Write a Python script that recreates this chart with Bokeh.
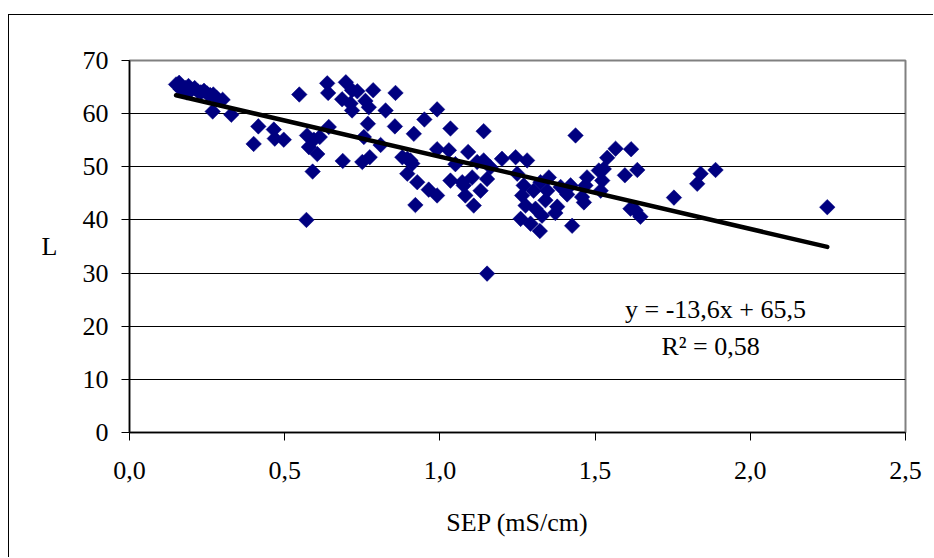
import numpy as np
from bokeh.plotting import figure
from bokeh.models import FixedTicker, CustomJSTickFormatter, Label, ColumnDataSource
from bokeh.embed import file_html
from bokeh.resources import INLINE

# ---- data ----
sep = [0.15, 0.16, 0.165, 0.17, 0.18, 0.185, 0.19, 0.20, 0.21, 0.22, 0.23, 0.24, 0.25, 0.26, 0.27, 0.28, 0.30,
       0.268, 0.328, 0.40, 0.415, 0.465, 0.468, 0.497,
       0.547, 0.572, 0.578, 0.59, 0.594, 0.605, 0.613, 0.57,
       0.637, 0.64, 0.642, 0.685, 0.687, 0.697, 0.712, 0.717, 0.717, 0.734,
       0.75, 0.755, 0.76, 0.768, 0.771, 0.774, 0.785, 0.809, 0.825, 0.855, 0.857,
       0.879, 0.895, 0.905, 0.895, 0.911, 0.916, 0.921, 0.927, 0.95, 0.964, 0.991, 0.991, 0.991,
       1.029, 1.034, 1.034, 1.05, 1.072, 1.077, 1.082, 1.091, 1.104, 1.109, 1.12, 1.131, 1.141, 1.141, 1.152, 1.163, 1.152,
       1.2, 1.244, 1.249, 1.26, 1.265, 1.27, 1.276, 1.281, 1.292, 1.302, 1.308, 1.322, 1.324, 1.329, 1.34, 1.346, 1.351,
       1.372, 1.378, 1.389, 1.41, 1.421, 1.426, 1.437, 1.458, 1.464, 1.469, 1.474,
       1.512, 1.518, 1.523, 1.528, 1.539, 1.566, 1.596, 1.614, 1.616, 1.63, 1.636, 1.646, 1.754, 1.829, 1.84, 1.888, 2.248]
L_vals = [65.5, 65.8, 64.6, 65.0, 64.8, 64.0, 65.2, 64.5, 64.8, 64.2, 64.0, 64.3, 63.8, 63.5, 63.6, 63.0, 62.6,
          60.4, 59.8, 54.3, 57.6, 57.0, 55.3, 55.1,
          63.6, 55.9, 53.7, 49.1, 55.1, 52.4, 55.6, 40.0,
          65.7, 63.9, 57.5, 62.7, 51.1, 65.9, 61.9, 60.6, 64.4, 64.2,
          50.9, 55.6, 62.4, 58.1, 61.2, 51.8, 64.4, 54.1, 60.6, 57.6, 63.9,
          51.8, 51.5, 51.2, 48.7, 50.6, 56.2, 42.8, 47.1, 58.9, 45.7, 60.8, 53.3, 44.6,
          53.1, 57.2, 47.4, 50.5, 47.1, 46.5, 44.6, 52.8, 48.0, 42.7, 50.9, 45.5, 56.7, 51.2, 47.7, 49.9, 29.9,
          51.5, 51.8, 48.7, 40.2, 44.6, 46.5, 42.7, 51.2, 39.3, 45.5, 42.1, 37.9, 47.1, 40.8, 43.7, 45.5, 48.0,
          41.3, 42.5, 46.2, 44.8, 46.5, 38.9, 55.9, 44.3, 43.3, 46.5, 48.0,
          49.3, 45.5, 47.4, 49.6, 51.7, 53.4, 48.4, 42.1, 53.3, 41.8, 49.4, 40.6, 44.2, 46.8, 48.7, 49.4, 42.4]

slope = -13.6
intercept = 65.5
eq_text = "y = -13,6x + 65,5"
r2_text = "R\u00b2 = 0,58"

x_ticks = [0.0, 0.5, 1.0, 1.5, 2.0, 2.5]
y_ticks = [0, 10, 20, 30, 40, 50, 60, 70]
grid_ticks = [10, 20, 30, 40, 50, 60]

FONT = "Liberation Serif"
FS = "26px"

p = figure(width=925, height=543, output_backend="svg", toolbar_location=None,
           x_range=(0, 2.5), y_range=(0, 70),
           min_border_left=120, min_border_right=29, min_border_top=45, min_border_bottom=126,
           styles={"margin-left": "8px", "margin-top": "14px",
                   "border-left": "1px solid black", "border-top": "1px solid black"})
p.background_fill_color = "white"
p.border_fill_color = "white"
p.outline_line_color = "#808080"
p.outline_line_width = 2

# grid
p.xgrid.visible = False
p.ygrid.ticker = FixedTicker(ticks=grid_ticks)
p.ygrid.grid_line_color = "black"
p.ygrid.grid_line_width = 1

# axes
for ax in (p.xaxis, p.yaxis):
    ax.axis_line_color = "black"
    ax.axis_line_width = 1.5
    ax.major_tick_line_color = "black"
    ax.major_tick_line_width = 1
    ax.major_tick_out = 8
    ax.major_tick_in = 0
    ax.minor_tick_line_color = None
    ax.major_label_text_font = FONT
    ax.major_label_text_font_size = FS
    ax.major_label_text_color = "black"
    ax.axis_label_text_font = FONT
    ax.axis_label_text_font_size = FS
    ax.axis_label_text_font_style = "normal"
    ax.axis_label_text_color = "black"

p.xaxis.ticker = FixedTicker(ticks=x_ticks)
p.xaxis.formatter = CustomJSTickFormatter(code="return tick.toFixed(1).replace('.', ',');")
p.xaxis.major_label_standoff = 21
p.xaxis.axis_label = "SEP (mS/cm)"
p.xaxis.axis_label_standoff = 26

p.yaxis.ticker = FixedTicker(ticks=y_ticks)
p.yaxis.major_label_standoff = 13
p.yaxis.axis_label = "L"
p.yaxis.axis_label_standoff = 22
p.yaxis.axis_label_orientation = "horizontal"

# points
src = ColumnDataSource(dict(x=sep, y=L_vals))
p.scatter("x", "y", source=src, marker="square", size=11, angle=np.pi / 4,
          fill_color="#000080", line_color="#000080", line_width=0.5)

# trend line
xs = np.array([min(sep), max(sep)])
ys = slope * xs + intercept
p.line(xs, ys, line_color="black", line_width=4.5, line_cap="round")

# equation labels
p.add_layout(Label(x=1.888, y=23.1, text=eq_text, text_align="center", text_baseline="alphabetic",
                   text_font=FONT, text_font_size=FS, text_color="black"))
p.add_layout(Label(x=1.872, y=16.1, text=r2_text, text_align="center", text_baseline="alphabetic",
                   text_font=FONT, text_font_size=FS, text_color="black"))

open("out.html", "w").write(file_html(p, INLINE))
